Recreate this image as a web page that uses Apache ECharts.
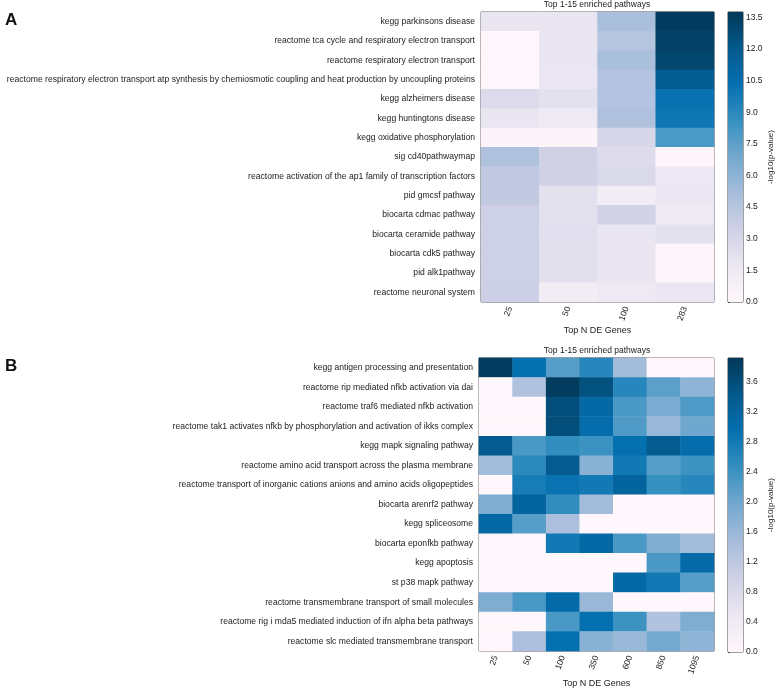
<!DOCTYPE html>
<html>
<head>
<meta charset="utf-8">
<script src="https://cdn.jsdelivr.net/npm/echarts@6/dist/echarts.min.js"></script>
<style>html,body{margin:0;padding:0;background:#fff}#c{width:778px;height:689px}</style>
</head>
<body>
<div id="c"></div>
<script>
// ---------- Panel A ----------
const rowsA = [
  'kegg parkinsons disease',
  'reactome tca cycle and respiratory electron transport',
  'reactome respiratory electron transport',
  'reactome respiratory electron transport atp synthesis by chemiosmotic coupling and heat production by uncoupling proteins',
  'kegg alzheimers disease',
  'kegg huntingtons disease',
  'kegg oxidative phosphorylation',
  'sig cd40pathwaymap',
  'reactome activation of the ap1 family of transcription factors',
  'pid gmcsf pathway',
  'biocarta cdmac pathway',
  'biocarta ceramide pathway',
  'biocarta cdk5 pathway',
  'pid alk1pathway',
  'reactome neuronal system'
];
const colsA = ['25', '50', '100', '283'];
const a25  = [1.9, 0.1, 0.1, 0.1, 2.7, 1.9, 0.3, 4.8, 4.0, 4.0, 3.5, 3.5, 3.5, 3.5, 3.6];
const a50  = [1.9, 1.9, 1.9, 1.8, 2.2, 1.5, 0.3, 3.4, 3.4, 2.2, 2.2, 2.4, 2.3, 2.3, 1.2];
const a100 = [5.0, 4.5, 5.0, 4.6, 4.6, 4.8, 3.0, 2.6, 2.8, 1.2, 3.3, 1.9, 1.9, 1.9, 1.5];
const a283 = [13.6, 13.3, 13.0, 11.8, 10.2, 10.0, 8.0, 0.2, 1.6, 1.8, 1.5, 2.2, 0.2, 0.2, 1.8];
const colValsA = [a25, a50, a100, a283];
const maxA = 13.75;
const ticksA = 1.5;

// ---------- Panel B ----------
const rowsB = [
  'kegg antigen processing and presentation',
  'reactome rip mediated nfkb activation via dai',
  'reactome traf6 mediated nfkb activation',
  'reactome tak1 activates nfkb by phosphorylation and activation of ikks complex',
  'kegg mapk signaling pathway',
  'reactome amino acid transport across the plasma membrane',
  'reactome transport of inorganic cations anions and amino acids oligopeptides',
  'biocarta arenrf2 pathway',
  'kegg spliceosome',
  'biocarta eponfkb pathway',
  'kegg apoptosis',
  'st p38 mapk pathway',
  'reactome transmembrane transport of small molecules',
  'reactome rig i mda5 mediated induction of ifn alpha beta pathways',
  'reactome slc mediated transmembrane transport'
];
const colsB = ['25', '50', '100', '350', '600', '850', '1095'];
const b25   = [3.85, 0, 0, 0, 3.4, 1.5, 0, 1.85, 3.1, 0, 0, 0, 1.85, 0, 0];
const b50   = [2.95, 1.35, 0, 0, 2.3, 2.55, 2.75, 3.2, 2.2, 0, 0, 0, 2.3, 0, 1.4];
const b100  = [2.2, 3.85, 3.6, 3.6, 2.5, 3.4, 2.9, 2.5, 1.4, 2.8, 0, 0, 3.05, 2.3, 2.95];
const b350  = [2.6, 3.55, 3.1, 3.0, 2.4, 1.75, 2.8, 1.5, 0, 3.1, 0, 0, 1.6, 2.95, 1.75];
const b600  = [1.5, 2.6, 2.3, 2.25, 2.95, 2.8, 3.2, 0, 0, 2.3, 0, 3.1, 0, 2.4, 1.6];
const b850  = [0, 2.15, 1.9, 1.6, 3.4, 2.2, 2.45, 0, 0, 1.85, 2.3, 2.8, 0, 1.35, 1.95];
const b1095 = [0, 1.7, 2.25, 2.0, 3.0, 2.4, 2.6, 0, 0, 1.5, 3.05, 2.2, 0, 1.85, 1.7];
const colValsB = [b25, b50, b100, b350, b600, b850, b1095];
const maxB = 3.92;
const ticksB = 0.4;

const titleText = 'Top 1-15 enriched pathways';
const xName = 'Top N DE Genes';
const cbName = '-log10(p-value)';

const puBu = ['#fff7fb','#ece7f2','#d0d1e6','#a6bddb','#74a9cf','#3690c0','#0570b0','#045a8d','#023858'];
const FONT = 'Liberation Sans, Arial, sans-serif';

function cells(colVals) {
  const out = [];
  colVals.forEach((arr, ci) => arr.forEach((v, ri) => out.push([ci, ri, v])));
  return out;
}

function gradient() {
  return new echarts.graphic.LinearGradient(0, 1, 0, 0,
    puBu.map((c, i) => ({ offset: i / (puBu.length - 1), color: c })));
}

function cbRender(max) {
  return function (params, api) {
    const p0 = api.coord([0, 0]);
    const p1 = api.coord([1, max]);
    return {
      type: 'rect',
      shape: { x: p0[0], y: p1[1], width: p1[0] - p0[0], height: p0[1] - p1[1] },
      style: { fill: gradient() }
    };
  };
}

const gridA = { left: 481, top: 12, width: 233, height: 290 };
const gridB = { left: 479, top: 358, width: 235, height: 294 };
const cbA = { left: 728, top: 12, width: 15, height: 290 };
const cbB = { left: 728, top: 358, width: 15, height: 294 };

function gridStyle(g) {
  return Object.assign({ show: true, borderColor: '#444', borderWidth: 1, backgroundColor: 'transparent', containLabel: false }, g);
}

function catX(idx, cols, gap) {
  return {
    type: 'category', gridIndex: idx, data: cols,
    axisLine: { show: false }, axisTick: { show: false }, splitLine: { show: false },
    axisLabel: { rotate: 70, fontSize: 8.5, color: '#222', fontFamily: FONT, margin: 5 },
    name: xName, nameLocation: 'middle', nameGap: gap,
    nameTextStyle: { fontSize: 9, color: '#222', fontFamily: FONT }
  };
}
function catY(idx, rows) {
  return {
    type: 'category', gridIndex: idx, data: rows, inverse: true,
    axisLine: { show: false }, axisTick: { show: false }, splitLine: { show: false },
    axisLabel: { fontSize: 8.6, color: '#222', fontFamily: FONT, margin: 6 }
  };
}
function cbX(idx) {
  return { type: 'value', gridIndex: idx, min: 0, max: 1, show: false };
}
function cbY(idx, max, interval) {
  return {
    type: 'value', gridIndex: idx, min: 0, max: max, interval: interval, position: 'right',
    axisLine: { show: false }, splitLine: { show: false },
    axisTick: { show: true, inside: false, length: 2, lineStyle: { color: '#444' } },
    axisLabel: {
      fontSize: 8.5, color: '#222', fontFamily: FONT, margin: 3, showMaxLabel: false,
      formatter: v => (Math.abs(v / interval - Math.round(v / interval)) < 1e-6 ? v.toFixed(1) : '')
    },
    name: cbName, nameLocation: 'middle', nameRotate: 90, nameGap: 24,
    nameTextStyle: { fontSize: 8, color: '#222', fontFamily: FONT }
  };
}

const chart = echarts.init(document.getElementById('c'), null, { renderer: 'canvas' });
chart.setOption({
  animation: false,
  backgroundColor: '#fff',
  title: [
    { text: titleText, left: 597, top: 0, padding: 0, textAlign: 'center', textStyle: { fontSize: 8.5, fontWeight: 'normal', color: '#222', fontFamily: FONT } },
    { text: titleText, left: 597, top: 346, padding: 0, textAlign: 'center', textStyle: { fontSize: 8.5, fontWeight: 'normal', color: '#222', fontFamily: FONT } },
    { text: 'A', left: 5, top: 12, padding: 0, textStyle: { fontSize: 17, fontWeight: 'bold', color: '#111', fontFamily: FONT } },
    { text: 'B', left: 5, top: 358, padding: 0, textStyle: { fontSize: 17, fontWeight: 'bold', color: '#111', fontFamily: FONT } }
  ],
  grid: [gridStyle(gridA), gridStyle(gridB), gridStyle(cbA), gridStyle(cbB)],
  xAxis: [catX(0, colsA, 21), catX(1, colsB, 26), cbX(2), cbX(3)],
  yAxis: [catY(0, rowsA), catY(1, rowsB), cbY(2, maxA, ticksA), cbY(3, maxB, ticksB)],
  visualMap: [
    { show: false, seriesIndex: 0, min: 0, max: maxA, inRange: { color: puBu } },
    { show: false, seriesIndex: 1, min: 0, max: maxB, inRange: { color: puBu } }
  ],
  series: [
    { type: 'heatmap', xAxisIndex: 0, yAxisIndex: 0, data: cells(colValsA), itemStyle: { borderWidth: 0 } },
    { type: 'heatmap', xAxisIndex: 1, yAxisIndex: 1, data: cells(colValsB), itemStyle: { borderWidth: 0 } },
    { type: 'custom', xAxisIndex: 2, yAxisIndex: 2, data: [[0, maxA]], renderItem: cbRender(maxA), silent: true, z: 1 },
    { type: 'custom', xAxisIndex: 3, yAxisIndex: 3, data: [[0, maxB]], renderItem: cbRender(maxB), silent: true, z: 1 }
  ]
});
</script>
</body>
</html>
